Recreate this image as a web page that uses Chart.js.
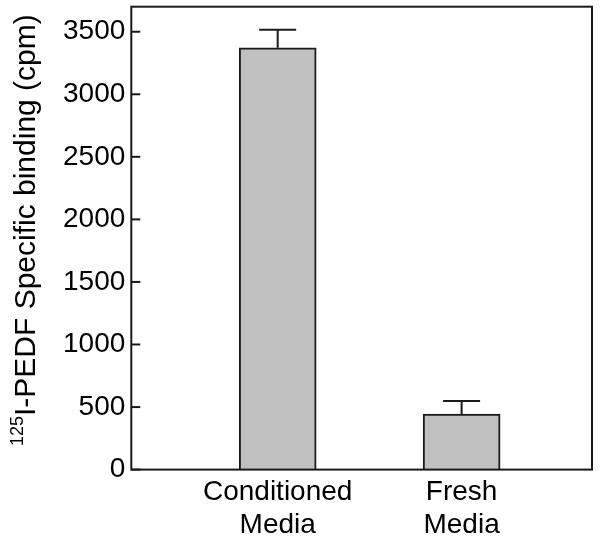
<!DOCTYPE html>
<html lang="en">
<head>
  <meta charset="UTF-8" />
  <title>PEDF binding</title>
  <script src="https://cdn.jsdelivr.net/npm/chart.js"></script>
  <style>
    body { margin: 0; background: #fff; }
    #wrap { width: 600px; height: 541px; position: relative; }
  </style>
</head>
<body>
  <div id="wrap"><canvas id="bindingChart"></canvas></div>

  <script>
    // categories and values
    const categories = [["Conditioned", "Media"], ["Fresh", "Media"]];
    const positions = [1, 2];
    const binding = [3371, 443];
    const errors = [145, 105];
    const yTicks = [0, 500, 1000, 1500, 2000, 2500, 3000, 3500];

    const FONT = "'Liberation Sans', Arial, sans-serif";
    const INK = "#1a1a1a";

    // box round the plot, inward ticks, error bars and the y title
    const decor = {
      id: "decor",
      afterDatasetsDraw(chart) {
        const { ctx, chartArea: a, scales } = chart;
        const x = scales.x, y = scales.y;
        ctx.save();
        ctx.strokeStyle = INK;
        ctx.lineWidth = 2;

        // error bars (upper only)
        binding.forEach((v, i) => {
          const px = x.getPixelForValue(positions[i]);
          const top = y.getPixelForValue(v);
          const cap = y.getPixelForValue(v + errors[i]);
          ctx.beginPath();
          ctx.moveTo(px, top);
          ctx.lineTo(px, cap);
          ctx.moveTo(px - 18.5, cap);
          ctx.lineTo(px + 18.5, cap);
          ctx.stroke();
        });

        // frame
        ctx.strokeRect(a.left, a.top, a.right - a.left, a.bottom - a.top);

        // ticks pointing inside
        yTicks.forEach(t => {
          const py = y.getPixelForValue(t);
          ctx.beginPath();
          ctx.moveTo(a.left, py);
          ctx.lineTo(a.left + 9, py);
          ctx.stroke();
        });

        // y title with superscript
        const main = "I-PEDF Specific binding (cpm)";
        const sup = "125";
        ctx.fillStyle = "#000";
        ctx.translate(35, (a.top + a.bottom) / 2 - 8);
        ctx.rotate(-Math.PI / 2);
        ctx.font = "30px " + FONT;
        const wMain = ctx.measureText(main).width;
        ctx.font = "18px " + FONT;
        const wSup = ctx.measureText(sup).width;
        const start = -(wMain + wSup) / 2;
        ctx.textBaseline = "alphabetic";
        ctx.textAlign = "left";
        ctx.fillText(sup, start, -12);
        ctx.font = "30px " + FONT;
        ctx.fillText(main, start + wSup, 0);
        ctx.restore();
      }
    };

    const ctx = document.getElementById("bindingChart").getContext("2d");

    const chart = new Chart(ctx, {
      type: "bar",
      data: {
        datasets: [{
          data: positions.map((p, i) => ({ x: p, y: binding[i] })),
          backgroundColor: "#c0c0c0",
          borderColor: INK,
          borderWidth: 2,
          borderSkipped: "bottom",
          barThickness: 77
        }]
      },
      options: {
        responsive: true,
        maintainAspectRatio: false,
        animation: false,
        layout: { padding: { left: 57, top: 6, right: 8, bottom: -7 } },
        plugins: {
          legend: { display: false },
          tooltip: { enabled: false }
        },
        scales: {
          x: {
            type: "linear",
            offset: false,
            min: 0.204,
            max: 2.709,
            grid: { display: false, drawTicks: false },
            border: { display: false },
            afterBuildTicks: scale => {
              scale.ticks = positions.map(p => ({ value: p }));
            },
            ticks: {
              color: "#000",
              padding: 7,
              maxRotation: 0,
              autoSkip: false,
              font: { family: FONT, size: 28, lineHeight: 1.15 },
              callback: value => categories[positions.indexOf(value)]
            }
          },
          y: {
            min: 0,
            max: 3700,
            grid: { display: false, drawTicks: false },
            border: { display: false },
            afterBuildTicks: scale => {
              scale.ticks = yTicks.map(v => ({ value: v }));
            },
            ticks: {
              color: "#000",
              padding: 6,
              font: { family: FONT, size: 28, lineHeight: 0.05 },
              callback: value => String(value)
            }
          }
        }
      },
      plugins: [decor]
    });
  </script>
</body>
</html>
